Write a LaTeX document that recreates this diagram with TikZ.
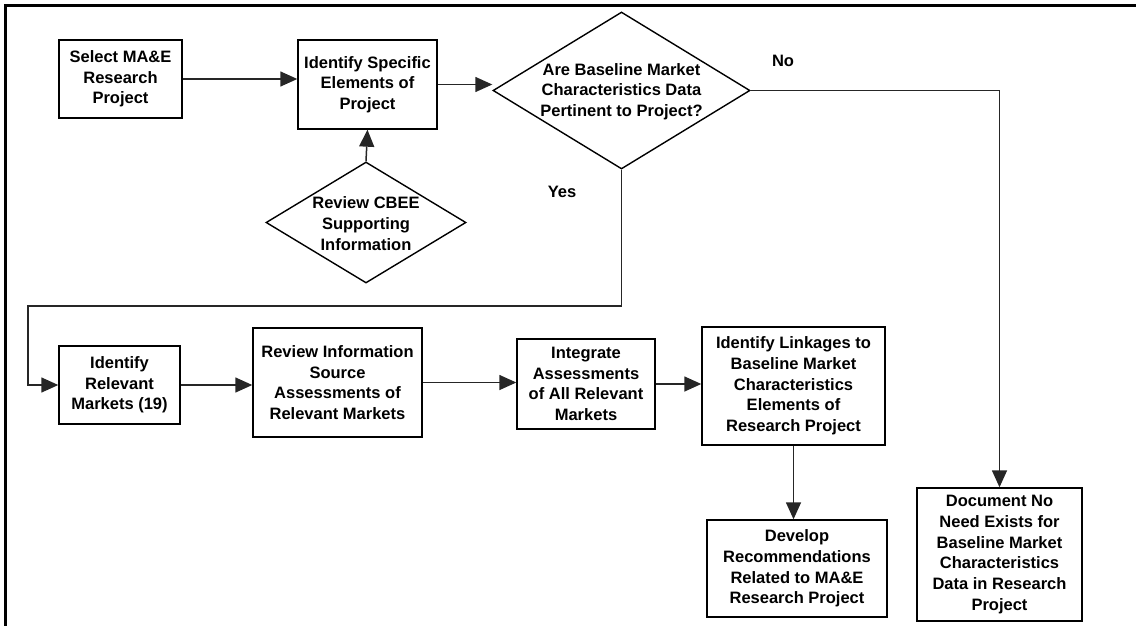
\documentclass[tikz,border=0pt]{standalone}
\usepackage{fontspec}
\setmainfont{Liberation Sans}
\usetikzlibrary{shapes.geometric,arrows.meta}
\begin{document}
\begin{tikzpicture}[x=1pt,y=-1pt,
  every node/.style={font=\bfseries\fontsize{16.5}{20.7}\selectfont, align=center},
  box/.style={draw=black, line width=1.4pt, inner sep=0pt, fill=white},
  dia/.style={draw=black, line width=1.4pt, diamond, inner sep=0pt},
  lab/.style={inner sep=0pt},
  conn/.style={line width=1.5pt, draw=black!85},
  arr/.style={conn, -{Triangle[length=17pt,width=15pt]}}
]
\useasboundingbox (0,0) rectangle (1136,626);
% frame
\draw[line width=2.5pt] (5.5,626) -- (5.5,5.5) -- (1136,5.5);

% nodes
\node[box, minimum width=123pt, minimum height=78pt] (sel) at (120.5,79) {Select MA\&E\\Research\\Project};
\node[box, minimum width=139pt, minimum height=89pt] (idsp) at (367.5,84.5) {Identify Specific\\Elements of\\Project};
\node[dia, minimum width=200pt, minimum height=121pt] (cb) at (366,222.5) {};
\node[lab] (cbt) at (366,223.5) {Review CBEE\\Supporting\\Information};
\node[dia, minimum width=257pt, minimum height=157pt] (q) at (621.5,90.5) {};
\node[lab] (qt) at (621.5,91.5) {Are Baseline Market\\Characteristics Data\\Pertinent to Project?};
\node[lab] (no) at (783,61) {No};
\node[lab] (yes) at (562,192) {Yes};

\node[box, minimum width=121pt, minimum height=78pt] (irm) at (119.5,385) {Identify\\Relevant\\Markets (19)};
\node[box, minimum width=169pt, minimum height=109pt] (ris) at (337.5,382.5) {Review Information\\Source\\Assessments of\\Relevant Markets};
\node[box, minimum width=138pt, minimum height=90pt] (int) at (586,384) {Integrate\\Assessments\\of All Relevant\\Markets};
\node[box, minimum width=183pt, minimum height=118pt] (lnk) at (793.5,386) {Identify Linkages to\\Baseline Market\\Characteristics\\Elements of\\Research Project};
\node[box, minimum width=180pt, minimum height=97pt] (dev) at (797,568.5) {Develop\\Recommendations\\Related to MA\&E\\Research Project};
\node[box, minimum width=165pt, minimum height=133pt] (doc) at (999.5,554.5) {Document No\\Need Exists for\\Baseline Market\\Characteristics\\Data in Research\\Project};

\coordinate (ya) at (621.5,306);
\coordinate (yb) at (28,306);

% connectors
\draw[arr] (sel.east) -- (sel.east -| idsp.west);
\draw[arr] (cb.north) -- (idsp.south);
\draw[arr] (idsp.east) -- (idsp.east -| q.west);
\draw[arr] (q.east) -| (doc.north);
\draw[arr] (q.south) -- (ya) -- (yb) |- (irm.west);
\draw[arr] (irm.east) -- (irm.east -| ris.west);
\draw[arr] (ris.east) -- (ris.east -| int.west);
\draw[arr] (int.east) -- (int.east -| lnk.west);
\draw[arr] (lnk.south) -- (lnk.south |- dev.north);
\end{tikzpicture}
\end{document}
